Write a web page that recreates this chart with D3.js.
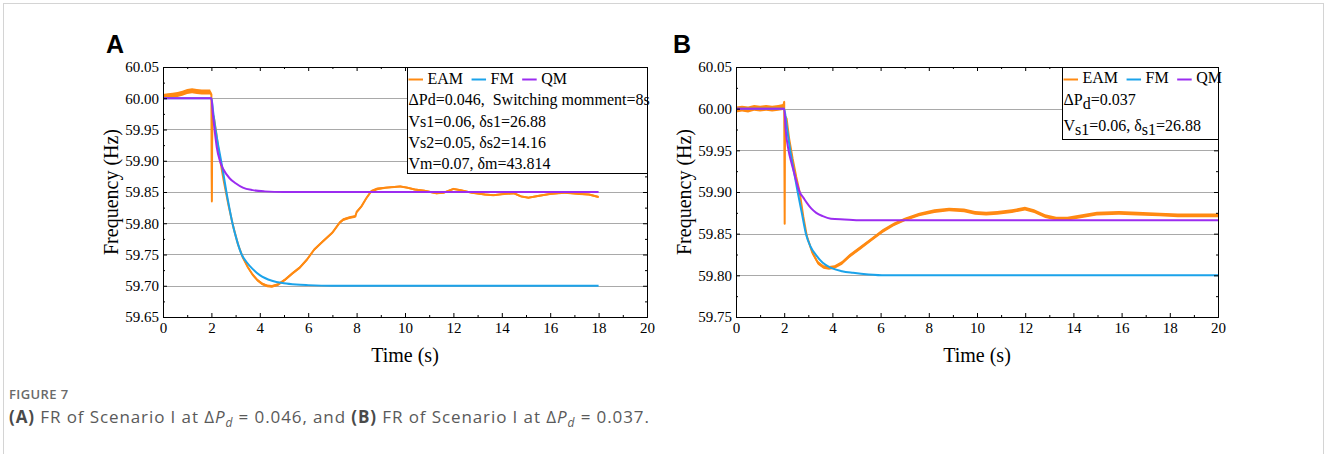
<!DOCTYPE html>
<html><head><meta charset="utf-8">
<script src="https://cdn.jsdelivr.net/npm/d3@7/dist/d3.min.js"></script>
<style>body{margin:0;background:#fff}svg{display:block}</style>
</head><body>
<svg id="c" width="1327" height="454"></svg>
<script>
// ---------- tick labels ----------
const xTicks = [0, 2, 4, 6, 8, 10, 12, 14, 16, 18, 20];
const xMinor = [1, 3, 5, 7, 9, 11, 13, 15, 17, 19];
const yTicksA = [59.65, 59.70, 59.75, 59.80, 59.85, 59.90, 59.95, 60.00, 60.05];
const yMinorA = [59.675, 59.725, 59.775, 59.825, 59.875, 59.925, 59.975, 60.025];
const yTicksB = [59.75, 59.80, 59.85, 59.90, 59.95, 60.00, 60.05];
const yMinorB = [59.775, 59.825, 59.875, 59.925, 59.975, 60.025];
const seriesNames = ["EAM", "FM", "QM"];

// ---------- panel A data (time s, frequency Hz) ----------
const tA_FM = [0, 2, 2.08, 2.17, 2.28, 2.4, 2.5, 2.62, 2.74, 2.87, 3.05, 3.25, 3.45, 3.7, 4.0, 4.5, 5.0, 5.5, 6.0, 7.0, 8.0, 18];
const fA_FM = [60, 60, 59.976, 59.95, 59.925, 59.90, 59.878, 59.85, 59.825, 59.80, 59.773, 59.75, 59.738, 59.727, 59.717, 59.708, 59.704, 59.702, 59.701, 59.70, 59.70, 59.70];
const tA_QM = [0, 2, 2.06, 2.13, 2.22, 2.35, 2.5, 2.75, 3.0, 3.3, 3.7, 4.2, 5.0, 18];
const fA_QM = [60, 60, 59.975, 59.95, 59.922, 59.90, 59.886, 59.872, 59.864, 59.857, 59.853, 59.851, 59.85, 59.85];
const tA_EAM = [0, 0.2, 0.4, 0.6, 0.8, 1.0, 1.2, 1.4, 1.6, 1.8, 1.95, 2.0, 2.01, 2.02, 2.03, 2.05, 2.1, 2.2, 2.3, 2.5, 2.7, 2.9, 3.1, 3.3, 3.5, 3.7, 3.9, 4.1, 4.3, 4.5, 4.75, 5.05, 5.35, 5.65, 5.95, 6.25, 6.55, 7.0, 7.3, 7.45, 7.7, 7.95, 8.0, 8.2, 8.4, 8.6, 8.85, 9.2, 9.8, 10.1, 10.4, 10.8, 11.3, 11.6, 12.0, 12.3, 12.75, 13.3, 13.65, 14.1, 14.5, 14.8, 15.1, 15.55, 16.0, 16.6, 17.2, 17.6, 18.0];
const fA_EAM = [60.003, 60.004, 60.005, 60.006, 60.008, 60.011, 60.012, 60.011, 60.010, 60.010, 60.010, 60.006, 59.88, 59.835, 59.93, 59.975, 59.97, 59.945, 59.915, 59.87, 59.83, 59.795, 59.766, 59.745, 59.73, 59.718, 59.709, 59.703, 59.700, 59.699, 59.702, 59.71, 59.72, 59.729, 59.742, 59.758, 59.769, 59.785, 59.801, 59.806, 59.809, 59.811, 59.818, 59.827, 59.84, 59.851, 59.855, 59.857, 59.859, 59.857, 59.854, 59.852, 59.848, 59.849, 59.855, 59.853, 59.849, 59.846, 59.845, 59.847, 59.848, 59.843, 59.841, 59.844, 59.847, 59.849, 59.847, 59.846, 59.842];
// half-width of the EAM noise band (Hz), by time segment
const bandA_t = [0, 2.0, 9.0, 18];
const bandA_h = [0.004, 0.0022, 0.0016];

// ---------- panel B data ----------
const tB_FM = [0, 2, 2.1, 2.25, 2.4, 2.56, 2.73, 2.9, 3.1, 3.33, 3.6, 3.94, 4.4, 4.86, 5.5, 6.2, 20];
const fB_FM = [60, 60, 59.98, 59.95, 59.925, 59.90, 59.875, 59.85, 59.834, 59.824, 59.815, 59.809, 59.805, 59.803, 59.801, 59.80, 59.80];
const tB_QM = [0, 2, 2.06, 2.18, 2.3, 2.41, 2.52, 2.64, 2.8, 2.94, 3.13, 3.33, 3.6, 3.94, 4.5, 5.2, 20];
const fB_QM = [60, 60, 59.975, 59.95, 59.935, 59.923, 59.911, 59.90, 59.893, 59.887, 59.88, 59.875, 59.871, 59.868, 59.867, 59.866, 59.866];
const tB_EAM = [0, 0.25, 0.5, 0.75, 1.0, 1.25, 1.5, 1.75, 1.95, 2.0, 2.01, 2.02, 2.03, 2.05, 2.1, 2.2, 2.35, 2.5, 2.64, 2.79, 2.94, 3.17, 3.4, 3.63, 3.86, 4.09, 4.4, 4.7, 5.16, 5.62, 6.08, 6.54, 7.0, 7.6, 8.23, 8.84, 9.46, 9.92, 10.38, 10.84, 11.45, 11.99, 12.37, 12.83, 13.29, 13.75, 14.36, 14.97, 15.89, 16.66, 17.58, 18.34, 19.26, 20];
const fB_EAM = [59.999, 60.0, 59.999, 60.001, 60.0, 60.001, 60.0, 60.001, 60.002, 60.008, 59.93, 59.862, 59.95, 59.99, 59.988, 59.965, 59.94, 59.918, 59.90, 59.871, 59.847, 59.827, 59.815, 59.81, 59.809, 59.81, 59.815, 59.823, 59.833, 59.843, 59.853, 59.861, 59.867, 59.873, 59.877, 59.879, 59.878, 59.875, 59.874, 59.875, 59.877, 59.88, 59.877, 59.871, 59.868, 59.868, 59.871, 59.874, 59.875, 59.874, 59.873, 59.872, 59.872, 59.872];
const bandB_t = [0, 2.0, 20];
const bandB_h = [0.0035, 0.0022];

// ---------- drawing ----------
const COL = {EAM: "#ff8a12", FM: "#1ba3ea", QM: "#9b2cf0"};
const SERIF = "'Liberation Serif','Times New Roman',serif";
const svg = d3.select("#c");

svg.append("rect").attr("x", 3.5).attr("y", 3.5).attr("width", 1320).attr("height", 480)
  .attr("fill", "none").attr("stroke", "#d4d4d4");

function bandAt(ts, hs, t) {
  for (let i = 0; i < hs.length; i++) if (t < ts[i + 1]) return hs[i];
  return hs[hs.length - 1];
}

function panel(cfg) {
  const g = svg.append("g");
  const x = d3.scaleLinear().domain([0, 20]).range([cfg.x0, cfg.x1]);
  const y = d3.scaleLinear().domain([cfg.yTicks[0], cfg.yTicks[cfg.yTicks.length - 1]]).range([cfg.y1, cfg.y0]);

  // grid
  g.append("g").selectAll("line").data(cfg.yTicks.slice(1, -1)).join("line")
    .attr("x1", cfg.x0).attr("x2", cfg.x1)
    .attr("y1", d => Math.round(y(d)) + 0.5).attr("y2", d => Math.round(y(d)) + 0.5)
    .attr("stroke", "#a9a9a9").attr("stroke-width", 1);

  const cid = "clip" + cfg.name;
  svg.append("clipPath").attr("id", cid).append("rect")
    .attr("x", cfg.x0).attr("y", cfg.y0).attr("width", cfg.x1 - cfg.x0).attr("height", cfg.y1 - cfg.y0);
  const plot = g.append("g").attr("clip-path", `url(#${cid})`);

  // EAM band + line
  const eam = cfg.tE.map((t, i) => ({t, f: cfg.fE[i], h: bandAt(cfg.bandT, cfg.bandH, t)}));
  plot.append("path").datum(eam)
    .attr("d", d3.area().x(d => x(d.t)).y0(d => y(d.f - d.h)).y1(d => y(d.f + d.h)))
    .attr("fill", COL.EAM);
  plot.append("path").datum(eam)
    .attr("d", d3.line().x(d => x(d.t)).y(d => y(d.f)))
    .attr("fill", "none").attr("stroke", COL.EAM).attr("stroke-width", 2).attr("stroke-linejoin", "round");

  const smooth = d3.line().x(d => x(d[0])).y(d => y(d[1])).curve(d3.curveMonotoneX);
  plot.append("path").datum(cfg.tF.map((t, i) => [t, cfg.fF[i]])).attr("d", smooth)
    .attr("fill", "none").attr("stroke", COL.FM).attr("stroke-width", 2);
  plot.append("path").datum(cfg.tQ.map((t, i) => [t, cfg.fQ[i]])).attr("d", smooth)
    .attr("fill", "none").attr("stroke", COL.QM).attr("stroke-width", 2);

  // axes (inward ticks on all four sides)
  const fmtY = d3.format(".2f");
  function ax(gen, tr, vals, size, fmt, pad) {
    const a = g.append("g").attr("transform", tr)
      .call(gen.tickValues(vals).tickSize(size).tickSizeOuter(0).tickPadding(pad).tickFormat(fmt));
    a.select(".domain").attr("stroke", "#000");
    a.selectAll(".tick line").attr("stroke", "#000");
    a.selectAll("text").attr("font-family", SERIF).attr("font-size", 15).attr("fill", "#000");
    return a;
  }
  ax(d3.axisBottom(x), `translate(0,${cfg.y1})`, xTicks, -4, d3.format("d"), 5);
  ax(d3.axisBottom(x), `translate(0,${cfg.y1})`, xMinor, -2, () => "", 5);
  ax(d3.axisTop(x), `translate(0,${cfg.y0})`, xTicks, -4, () => "", 5);
  ax(d3.axisTop(x), `translate(0,${cfg.y0})`, xMinor, -2, () => "", 5);
  ax(d3.axisLeft(y), `translate(${cfg.x0},0)`, cfg.yTicks, -4, fmtY, 4);
  ax(d3.axisLeft(y), `translate(${cfg.x0},0)`, cfg.yMinor, -2, () => "", 4);
  ax(d3.axisRight(y), `translate(${cfg.x1},0)`, cfg.yTicks, -4, () => "", 4);
  ax(d3.axisRight(y), `translate(${cfg.x1},0)`, cfg.yMinor, -2, () => "", 4);

  // titles
  g.append("text").attr("transform", `translate(${cfg.x0 - 45.5},${(cfg.y0 + cfg.y1) / 2}) rotate(-90)`)
    .attr("text-anchor", "middle").attr("font-family", SERIF).attr("font-size", 20).text("Frequency (Hz)");
  g.append("text").attr("x", (cfg.x0 + cfg.x1) / 2).attr("y", 361.5)
    .attr("text-anchor", "middle").attr("font-family", SERIF).attr("font-size", 20).text("Time (s)");
  g.append("text").attr("x", cfg.letterX).attr("y", 53)
    .attr("font-family", "'Liberation Sans',Arial,sans-serif").attr("font-weight", "bold").attr("font-size", 25)
    .text(cfg.name);

  // legend box
  const lg = g.append("g");
  lg.append("rect").attr("x", cfg.lx + 0.5).attr("y", cfg.y0 + 0.5)
    .attr("width", cfg.x1 - cfg.lx).attr("height", cfg.ly1 - cfg.y0)
    .attr("fill", "#fff").attr("stroke", "#000");
  let cx = cfg.lx + 1.5;
  seriesNames.forEach(n => {
    lg.append("line").attr("x1", cx).attr("x2", cx + 14.5).attr("y1", cfg.y0 + 12.5).attr("y2", cfg.y0 + 12.5)
      .attr("stroke", COL[n]).attr("stroke-width", 2);
    cx += 19;
    const t = lg.append("text").attr("x", cx).attr("y", cfg.rowY[0]).attr("font-family", SERIF)
      .attr("font-size", 16).text(n);
    cx += t.node().getComputedTextLength() + 8.5;
  });
  cfg.rows.forEach((parts, i) => {
    const t = lg.append("text").attr("x", cfg.lx + 1.5).attr("y", cfg.rowY[i + 1])
      .attr("font-family", SERIF).attr("font-size", 16).style("white-space", "pre");
    let shifted = false;
    parts.forEach(p => {
      if (typeof p === "string") {
        const s = t.append("tspan").text(p);
        if (shifted) { s.attr("dy", -4); shifted = false; }
      } else {
        t.append("tspan").attr("dy", 4).text(p.sub);
        shifted = true;
      }
    });
  });
}

panel({
  name: "A", x0: 163, x1: 647, y0: 67, y1: 317, letterX: 106,
  yTicks: yTicksA, yMinor: yMinorA,
  tE: tA_EAM, fE: fA_EAM, bandT: bandA_t, bandH: bandA_h,
  tF: tA_FM, fF: fA_FM, tQ: tA_QM, fQ: fA_QM,
  lx: 407, ly1: 173, rowY: [83.5, 105, 126.5, 147.5, 168.5],
  rows: [["\u0394Pd=0.046,  Switching momment=8s"], ["Vs1=0.06, \u03b4s1=26.88"],
         ["Vs2=0.05, \u03b4s2=14.16"], ["Vm=0.07, \u03b4m=43.814"]]
});
panel({
  name: "B", x0: 736, x1: 1218, y0: 67, y1: 317, letterX: 673,
  yTicks: yTicksB, yMinor: yMinorB,
  tE: tB_EAM, fE: fB_EAM, bandT: bandB_t, bandH: bandB_h,
  tF: tB_FM, fF: fB_FM, tQ: tB_QM, fQ: fB_QM,
  lx: 1062, ly1: 139, rowY: [83, 105, 131],
  rows: [["\u0394P", {sub: "d"}, "=0.037"], ["V", {sub: "s1"}, "=0.06, \u03b4", {sub: "s1"}, "=26.88"]]
});

// caption
const CAP = "'Open Sans','Noto Sans',sans-serif";
svg.append("text").attr("x", 9).attr("y", 399).attr("font-family", CAP).attr("font-size", 13)
  .attr("font-weight", 600).attr("fill", "#6a6a6a").attr("letter-spacing", 0.4).text("FIGURE 7");
const cap = svg.append("text").attr("x", 9).attr("y", 423).attr("font-family", CAP).attr("font-size", 17)
  .attr("fill", "#5a5a5a").attr("letter-spacing", 0.9).style("white-space", "pre");
function capPart(s, opt = {}) {
  const ts = cap.append("tspan").text(s);
  if (opt.b) ts.attr("font-weight", 700).attr("fill", "#4a4a4a");
  if (opt.i) ts.attr("font-style", "italic");
  if (opt.sub) ts.attr("dy", 4).attr("font-size", 12);
  if (opt.up) ts.attr("dy", -4);
}
capPart("(A)", {b: 1}); capPart(" FR of Scenario I at \u0394"); capPart("P", {i: 1}); capPart("d", {i: 1, sub: 1});
capPart(" = 0.046, and ", {up: 1}); capPart("(B)", {b: 1}); capPart(" FR of Scenario I at \u0394"); capPart("P", {i: 1});
capPart("d", {i: 1, sub: 1}); capPart(" = 0.037.", {up: 1});
</script>
</body></html>
